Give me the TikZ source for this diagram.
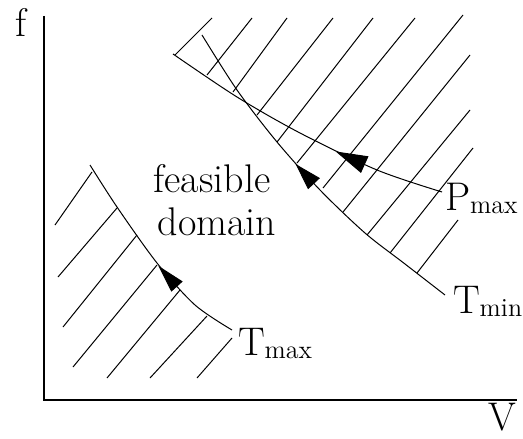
\documentclass[tikz,border=0pt]{standalone}
\usepackage{fontspec}
\usetikzlibrary{arrows.meta,decorations.markings}

\newcommand{\lowsub}[1]{\raisebox{-1.5pt}{\fontsize{13}{13}\selectfont #1}}

\tikzset{
  lbl/.style={inner sep=0, outer sep=0, font=\fontsize{20}{24}\selectfont},
  bound/.style={line width=0.5pt},
  hatch/.style={line width=0.5pt},
  flowarrow/.style n args={3}{postaction={decorate}, decoration={markings, mark=at position #1 with {\arrow{Triangle[reversed, length=#2, width=#3]}}}},
}

\begin{document}
\begin{tikzpicture}[x=0.5pt, y=-0.5pt]
        \useasboundingbox (0,0) rectangle (523,438);

        \coordinate (origin) at (44,400);
        \coordinate (f-top) at (44,16);
        \coordinate (v-end) at (517,400);

        \draw[line width=1pt] (f-top) -- (origin) -- (v-end);

        \draw (21,37) node[anchor=base, lbl] (f-lbl) {f};

        \draw (502,430) node[anchor=base, lbl] (v-lbl) {V};

        \draw[hatch] (175,55) -- (212,18) (207,75) -- (252,18) (233,92) -- (287,18) (257,115) -- (333,18) (277,142) -- (373,18) (297,163) -- (415,18) (323,188) -- (463,15) (343,212) -- (470,55) (367,235) -- (470,110) (390,253) -- (473,148) (417,273) -- (458,220);

        \draw[hatch] (55,225) -- (92,172) (58,277) -- (117,208) (63,327) -- (137,235) (73,367) -- (157,265) (107,378) -- (180,290) (150,378) -- (207,316) (197,378) -- (232,338);

        \draw[bound, flowarrow={0.73}{16pt}{9pt}] plot[smooth] coordinates {(173,54) (237,97) (300,133) (377,170) (442,192)} coordinate (pmax-end);

        \draw[bound, flowarrow={0.52}{13.5pt}{8pt}] plot[smooth] coordinates {(202,35) (237,90) (277,142) (320,190) (365,233) (405,264) (445,295)} coordinate (tmin-end);

        \draw[bound, flowarrow={0.68}{14pt}{7.5pt}] plot[smooth] coordinates {(90,165) (117,207) (157,263) (195,305) (232,330)} coordinate (tmax-end);

        \draw (pmax-end) ++(3,18) node[anchor=base west, lbl] (pmax-lbl) {P\lowsub{max}};

        \draw (tmin-end) ++(8,18) node[anchor=base west, lbl] (tmin-lbl) {T\lowsub{min}};

        \draw (tmax-end) ++(6,25) node[anchor=base west, lbl] (tmax-lbl) {T\lowsub{max}};

        \draw (212,192) node[anchor=base, lbl] (feas) {feasible};

        \draw (feas.base) ++(5,43) node[anchor=base, lbl] (dom) {domain};
\end{tikzpicture}
\end{document}
